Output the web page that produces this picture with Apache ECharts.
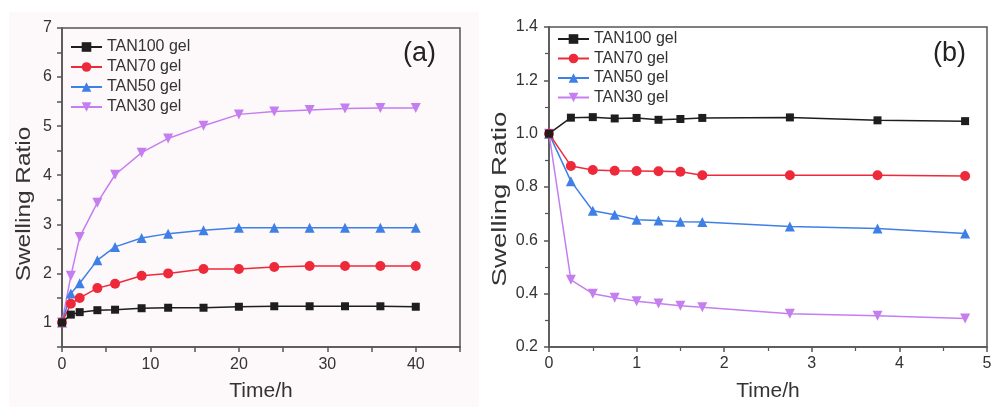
<!DOCTYPE html>
<html>
<head>
<meta charset="utf-8">
<script src="https://cdn.jsdelivr.net/npm/echarts@6/dist/echarts.min.js"></script>
<style>
html,body{margin:0;padding:0;background:#ffffff;}
#chart{width:998px;height:407px;}
</style>
</head>
<body>
<div id="chart"></div>
<script>
// ---- Panel (a): swelling in water over 40 h ----
const timeA = [0, 1, 2, 4, 6, 9, 12, 16, 20, 24, 28, 32, 36, 40];
const a_TAN100 = [1.00, 1.16, 1.21, 1.25, 1.26, 1.29, 1.30, 1.30, 1.32, 1.33, 1.33, 1.33, 1.33, 1.32];
const a_TAN70  = [1.00, 1.38, 1.50, 1.70, 1.79, 1.95, 2.00, 2.09, 2.09, 2.13, 2.15, 2.15, 2.15, 2.15];
const a_TAN50  = [1.00, 1.59, 1.80, 2.27, 2.54, 2.72, 2.81, 2.88, 2.93, 2.93, 2.93, 2.93, 2.93, 2.93];
const a_TAN30  = [1.00, 1.95, 2.74, 3.44, 4.01, 4.46, 4.75, 5.01, 5.24, 5.30, 5.33, 5.36, 5.37, 5.37];

// ---- Panel (b): deswelling over 4.75 h ----
const timeB = [0, 0.25, 0.5, 0.75, 1, 1.25, 1.5, 1.75, 2.75, 3.75, 4.75];
const b_TAN100 = [1.000, 1.060, 1.062, 1.057, 1.059, 1.052, 1.055, 1.059, 1.061, 1.050, 1.047];
const b_TAN70  = [1.000, 0.879, 0.864, 0.861, 0.860, 0.859, 0.857, 0.844, 0.844, 0.844, 0.841];
const b_TAN50  = [1.000, 0.822, 0.711, 0.696, 0.677, 0.674, 0.670, 0.669, 0.652, 0.644, 0.626];
const b_TAN30  = [1.000, 0.452, 0.400, 0.385, 0.372, 0.363, 0.355, 0.349, 0.325, 0.317, 0.307];

const seriesNames = ['TAN100 gel', 'TAN70 gel', 'TAN50 gel', 'TAN30 gel'];
const panelLabels = ['(a)', '(b)'];
const axisNameX = 'Time/h';
const axisNameY = 'Swelling Ratio';

const FONT = '"Liberation Sans", Arial, Helvetica, sans-serif';
const colors = ['#1e1e1e', '#ee2a3a', '#3f80e6', '#c57ef0'];
const symbols = ['rect', 'circle', 'triangle', 'triangle'];
const symRot = [0, 0, 0, 180];
const symSize = [8, 10, 10, 10];

function pairs(xs, ys) { return xs.map((x, i) => [x, ys[i]]); }

const dataA = [a_TAN100, a_TAN70, a_TAN50, a_TAN30];
const dataB = [b_TAN100, b_TAN70, b_TAN50, b_TAN30];

const axisColor = '#555';
const labelColor = '#333';

function mkSeries(idx, xs, ys, gi) {
  return {
    name: seriesNames[idx],
    type: 'line',
    xAxisIndex: gi, yAxisIndex: gi,
    data: pairs(xs, ys),
    symbol: symbols[idx],
    symbolRotate: symRot[idx],
    symbolSize: symSize[idx],
    showAllSymbol: true,
    lineStyle: { color: colors[idx], width: 1.5 },
    itemStyle: { color: colors[idx] },
    z: 10 - idx,
    animation: false
  };
}

const series = [];
dataA.forEach((d, i) => series.push(mkSeries(i, timeA, d, 0)));
dataB.forEach((d, i) => series.push(mkSeries(i, timeB, d, 1)));

const chart = echarts.init(document.getElementById('chart'), null, { renderer: 'canvas' });

function yTitle(cx, cy, sx) {
  return {
    type: 'text', x: cx, y: cy, rotation: Math.PI / 2, scaleX: sx, scaleY: 1, z: 20, silent: true,
    style: { text: axisNameY, x: 0, y: 0, align: 'center', verticalAlign: 'middle',
      font: '20px ' + FONT, fill: '#333' }
  };
}

const option = {
  backgroundColor: '#ffffff',
  animation: false,
  textStyle: { fontFamily: FONT },
  graphic: [
    { type: 'rect', z: -10, silent: true, shape: { x: 9, y: 12, width: 470, height: 395 }, style: { fill: '#fdf9fa' } },
    { type: 'text', left: 403, top: 40, style: { text: panelLabels[0], font: '27px ' + FONT, fill: '#222' }, z: 20 },
    { type: 'text', left: 933, top: 40, style: { text: panelLabels[1], font: '27px ' + FONT, fill: '#222' }, z: 20 },
    yTitle(24, 204, 1.22),
    yTitle(500, 199, 1.38)
  ],
  grid: [
    { left: 62, top: 28, width: 398, height: 322, show: true, borderColor: axisColor, borderWidth: 1.5, backgroundColor: 'transparent' },
    { left: 549, top: 27, width: 438, height: 322, show: true, borderColor: axisColor, borderWidth: 1.5, backgroundColor: 'transparent' }
  ],
  legend: [
    {
      data: seriesNames, orient: 'vertical', left: 70, top: 39, padding: 0,
      itemWidth: 31, itemHeight: 12, itemGap: 4,
      textStyle: { fontSize: 16, color: labelColor, fontFamily: FONT }
    },
    {
      data: seriesNames, orient: 'vertical', left: 557, top: 31, padding: 0,
      itemWidth: 31, itemHeight: 12, itemGap: 3.5,
      textStyle: { fontSize: 16, color: labelColor, fontFamily: FONT }
    }
  ],
  xAxis: [
    {
      gridIndex: 0, type: 'value', min: 0, max: 45, interval: 5,
      name: axisNameX, nameLocation: 'middle', nameGap: 34,
      nameTextStyle: { fontSize: 21, color: '#333', fontFamily: FONT },
      axisLine: { show: true, onZero: false, lineStyle: { color: axisColor, width: 1.5 } },
      axisTick: { show: true, inside: false, length: 5, lineStyle: { color: axisColor, width: 1.5 } },
      axisLabel: { fontSize: 16, color: labelColor, margin: 10, fontFamily: FONT,
        formatter: v => (v % 10 === 0 && v < 45) ? String(v) : '' },
      splitLine: { show: false }
    },
    {
      gridIndex: 1, type: 'value', min: 0, max: 5, interval: 1,
      name: axisNameX, nameLocation: 'middle', nameGap: 34,
      nameTextStyle: { fontSize: 21, color: '#333', fontFamily: FONT },
      axisLine: { show: true, onZero: false, lineStyle: { color: axisColor, width: 1.5 } },
      axisTick: { show: true, inside: false, length: 5, lineStyle: { color: axisColor, width: 1.5 } },
      minorTick: { show: true, splitNumber: 2, length: 4, lineStyle: { color: axisColor, width: 1.2 } },
      axisLabel: { fontSize: 16, color: labelColor, margin: 9, fontFamily: FONT },
      splitLine: { show: false }
    }
  ],
  yAxis: [
    {
      gridIndex: 0, type: 'value', min: 0.5, max: 7, interval: 0.5,
      axisLine: { show: true, onZero: false, lineStyle: { color: axisColor, width: 1.5 } },
      axisTick: { show: true, inside: false, length: 5, lineStyle: { color: axisColor, width: 1.5 } },
      axisLabel: { fontSize: 16, color: labelColor, margin: 10, fontFamily: FONT,
        formatter: v => Number.isInteger(v) ? String(v) : '' },
      splitLine: { show: false }
    },
    {
      gridIndex: 1, type: 'value', min: 0.2, max: 1.4, interval: 0.2,
      axisLine: { show: true, onZero: false, lineStyle: { color: axisColor, width: 1.5 } },
      axisTick: { show: true, inside: false, length: 5, lineStyle: { color: axisColor, width: 1.5 } },
      minorTick: { show: true, splitNumber: 2, length: 4, lineStyle: { color: axisColor, width: 1.2 } },
      axisLabel: { fontSize: 16, color: labelColor, margin: 11, fontFamily: FONT,
        formatter: v => v.toFixed(1) },
      splitLine: { show: false }
    }
  ],
  series: series
};

chart.setOption(option);
</script>
</body>
</html>
